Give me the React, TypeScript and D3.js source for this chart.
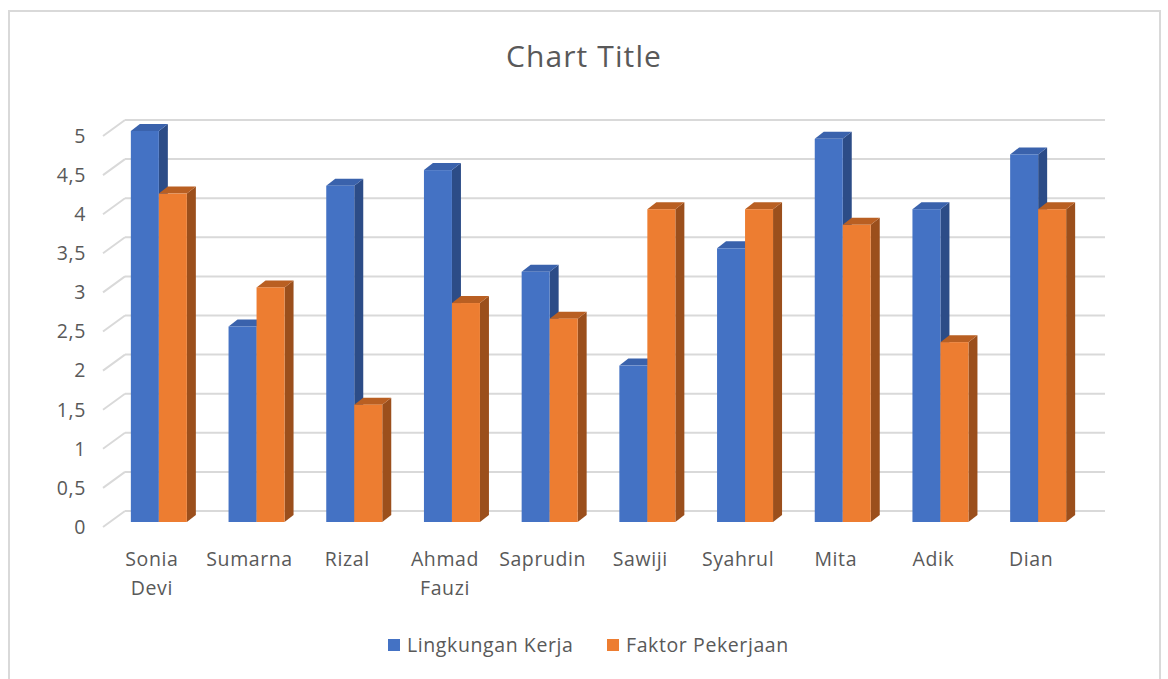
import React from "react";
import * as d3 from "d3";

const categories: string[][] = [
  ["Sonia", "Devi"], ["Sumarna"], ["Rizal"], ["Ahmad", "Fauzi"], ["Saprudin"],
  ["Sawiji"], ["Syahrul"], ["Mita"], ["Adik"], ["Dian"],
];
const lingkunganKerja = [5, 2.5, 4.3, 4.5, 3.2, 2.0, 3.5, 4.9, 4.0, 4.7];
const faktorPekerjaan = [4.2, 3.0, 1.5, 2.8, 2.6, 4.0, 4.0, 3.8, 2.3, 4.0];
const seriesNames = ["Lingkungan Kerja", "Faktor Pekerjaan"];
const yTicks = [0, 0.5, 1, 1.5, 2, 2.5, 3, 3.5, 4, 4.5, 5];

const W = 1168, H = 679;
const FONT = "'Open Sans', 'Noto Sans', sans-serif";
const TXT = "#595959";
const LS = 0.6;

const colors = [
  { front: "#4472C4", top: "#3a62ac", side: "#2c4c87" },
  { front: "#ED7D31", top: "#b95f22", side: "#9b4f1c" },
];

export default function App() {
  const keys = categories.map((c) => c.join(" "));
  const x = d3.scaleBand<string>().domain(keys).range([103, 1080]).paddingInner(0).paddingOuter(0);
  const y = d3.scaleLinear().domain([0, 5]).range([527, 136]);
  const back = { dx: 22, dy: -16 };
  const barFront = { dx: 7, dy: -5 };
  const depth = { dx: 9, dy: -7 };
  const barW = 28;
  const series = [lingkunganKerja, faktorPekerjaan];

  const fmt = (v: number) => String(v).replace(".", ",");

  const bars: React.ReactNode[] = [];
  keys.forEach((k, i) => {
    const center = (x(k) as number) + x.bandwidth() / 2 + barFront.dx;
    series.forEach((s, si) => {
      const v = s[i];
      const x0 = center - barW + si * barW;
      const x1 = x0 + barW;
      const yb = y(0) + barFront.dy;
      const yt = y(v) + barFront.dy;
      const c = colors[si];
      const side = `M${x1},${yt} L${x1 + depth.dx},${yt + depth.dy} L${x1 + depth.dx},${yb + depth.dy} L${x1},${yb} Z`;
      const top = `M${x0},${yt} L${x0 + depth.dx},${yt + depth.dy} L${x1 + depth.dx},${yt + depth.dy} L${x1},${yt} Z`;
      bars.push(
        <g key={`${i}-${si}`}>
          <path d={side} fill={c.side} />
          <path d={top} fill={c.top} />
          <rect x={x0} y={yt} width={barW} height={yb - yt} fill={c.front} />
        </g>
      );
    });
  });

  return (
    <svg width={W} height={H} style={{ position: "absolute", left: 0, top: 0, background: "#fff" }}>
      <rect x={9} y={11} width={1151} height={680} fill="#fff" stroke="#d9d9d9" strokeWidth={2} />
      <text x={584} y={67} textAnchor="middle" fontFamily={FONT} fontSize={30} letterSpacing={1.1} fill={TXT}>Chart Title</text>
      <g>
        {yTicks.map((t) => (
          <g key={t}>
            <line x1={103} y1={y(t)} x2={103 + back.dx} y2={y(t) + back.dy} stroke="#d9d9d9" strokeWidth={2} />
            <line x1={103 + back.dx} y1={y(t) + back.dy} x2={1105} y2={y(t) + back.dy} stroke="#d9d9d9" strokeWidth={2} />
            <text x={86} y={y(t)} dy="0.35em" textAnchor="end" fontFamily={FONT} fontSize={19.5} letterSpacing={LS} fill={TXT}>{fmt(t)}</text>
          </g>
        ))}
      </g>
      <g>{bars}</g>
      <g>
        {categories.map((c, i) => (
          <text key={i} x={(x(keys[i]) as number) + x.bandwidth() / 2} y={566} textAnchor="middle" fontFamily={FONT} fontSize={19.5} letterSpacing={LS} fill={TXT}>
            {c.map((line, li) => (
              <tspan key={li} x={(x(keys[i]) as number) + x.bandwidth() / 2} dy={li === 0 ? 0 : 29}>{line}</tspan>
            ))}
          </text>
        ))}
      </g>
      <g>
        {seriesNames.map((n, i) => {
          const lx = i === 0 ? 388 : 607;
          return (
            <g key={n}>
              <rect x={lx} y={639} width={12} height={12} fill={colors[i].front} />
              <text x={lx + 19} y={652} fontFamily={FONT} fontSize={19.5} letterSpacing={LS} fill={TXT}>{n}</text>
            </g>
          );
        })}
      </g>
    </svg>
  );
}
